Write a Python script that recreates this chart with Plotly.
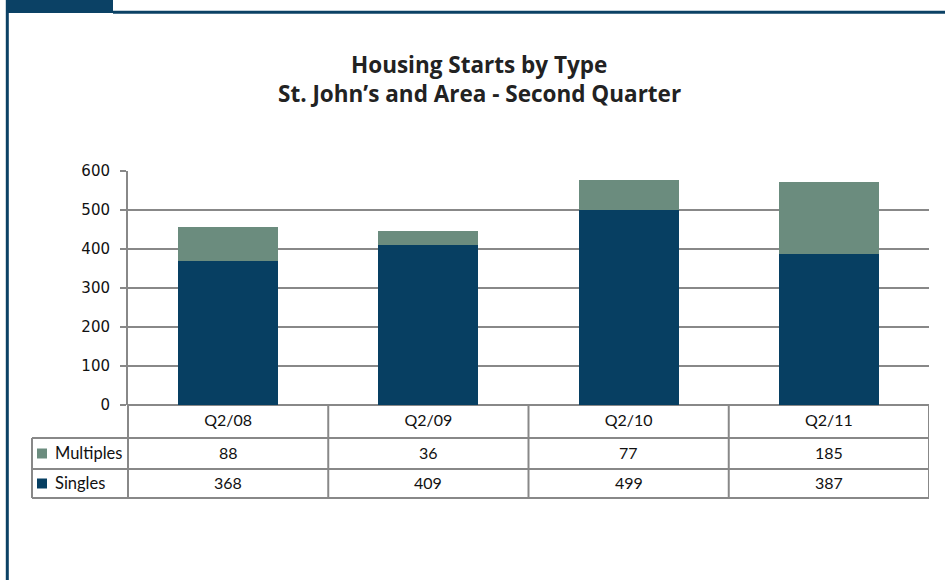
import plotly.graph_objects as go

categories = ["Q2/08", "Q2/09", "Q2/10", "Q2/11"]
singles = [368, 409, 499, 387]
multiples = [88, 36, 77, 185]
series_names = ["Multiples", "Singles"]
y_ticks = [0, 100, 200, 300, 400, 500, 600]

C_SINGLE = "#073F62"
C_MULTI = "#6B8C7E"
C_FRAME = "#0B4165"
C_GRID = "#888888"
W, H = 945, 580

def px(x):
    return x / W

def py(y):
    return 1 - y / H

fig = go.Figure()
fig.add_bar(x=categories, y=singles, name="Singles", marker_color=C_SINGLE, marker_line_width=0)
fig.add_bar(x=categories, y=multiples, name="Multiples", marker_color=C_MULTI, marker_line_width=0)

shapes = []
# frame
shapes.append(dict(type="rect", xref="paper", yref="paper", x0=px(6), x1=px(113), y0=py(13), y1=py(0),
                   fillcolor=C_FRAME, line_width=0, layer="above"))
shapes.append(dict(type="line", xref="paper", yref="paper", x0=px(113), x1=1, y0=py(12.3), y1=py(12.3),
                   line=dict(color=C_FRAME, width=3)))
shapes.append(dict(type="line", xref="paper", yref="paper", x0=px(7.3), x1=px(7.3), y0=0, y1=1,
                   line=dict(color=C_FRAME, width=3)))

# data table
line = dict(color=C_GRID, width=2)
TOP, R1, R2, BOT = 405, 438, 469, 498
LEFT, LAB, RIGHT = 32, 128, 929
for yy in (R1, R2, BOT):
    shapes.append(dict(type="line", xref="paper", yref="paper", x0=px(LEFT), x1=px(RIGHT),
                       y0=py(yy), y1=py(yy), line=line))
shapes.append(dict(type="line", xref="paper", yref="paper", x0=px(LEFT), x1=px(LEFT),
                   y0=py(R1), y1=py(BOT), line=line))
shapes.append(dict(type="line", xref="paper", yref="paper", x0=px(LAB), x1=px(LAB),
                   y0=py(TOP), y1=py(BOT), line=line))
for i in range(len(categories)):
    shapes.append(dict(type="line", xref="x", yref="paper", x0=i + 0.5, x1=i + 0.5,
                       y0=py(TOP), y1=py(BOT), line=line))

annotations = []
FONT = "Lato"
TFONT = dict(family="Open Sans", size=22.5, color="#222222", weight=700)
annotations.append(dict(xref="paper", yref="paper", x=px(479), y=py(64), yanchor="middle",
                        text="Housing Starts by Type", showarrow=False, font=TFONT))
annotations.append(dict(xref="paper", yref="paper", x=px(479), y=py(93), yanchor="middle",
                        text="St. John’s and Area - Second Quarter", showarrow=False, font=TFONT))

rows = [(multiples, "Multiples", C_MULTI, (R1 + R2) / 2), (singles, "Singles", C_SINGLE, (R2 + BOT) / 2)]
for vals, name, col, yc in rows:
    shapes.append(dict(type="rect", xref="paper", yref="paper", x0=px(37), x1=px(47),
                       y0=py(yc + 5), y1=py(yc - 5), fillcolor=col, line_width=0))
    annotations.append(dict(xref="paper", yref="paper", x=px(53), y=py(yc - 1), xanchor="left", yanchor="middle",
                            text=name, showarrow=False, font=dict(family=FONT, size=16.5, color="#111111")))
    for i, v in enumerate(vals):
        annotations.append(dict(xref="x", yref="paper", x=i, y=py(yc - 1), yanchor="middle", text=str(v),
                                showarrow=False, font=dict(family=FONT, size=16, color="#111111")))

fig.update_layout(
    width=W, height=H, margin=dict(l=0, r=0, t=0, b=0, autoexpand=False),
    paper_bgcolor="white", plot_bgcolor="white",
    barmode="stack", bargap=0.5, showlegend=False,
    shapes=shapes, annotations=annotations,
    xaxis=dict(domain=[px(LAB), px(RIGHT)], range=[-0.5, 3.5], showgrid=False, showline=False,
               automargin=False,
               ticks="", tickfont=dict(family=FONT, size=16, color="#111111"), ticklabelstandoff=4),
    yaxis=dict(domain=[py(TOP), py(171)], range=[0, 600], tickvals=y_ticks, automargin=False,
               showgrid=True, gridcolor=C_GRID, gridwidth=2, zeroline=True, zerolinecolor=C_GRID,
               zerolinewidth=2, showline=True, linecolor=C_GRID, linewidth=2,
               ticks="outside", ticklen=6, tickcolor=C_GRID, tickwidth=2, ticklabelstandoff=7,
               tickfont=dict(family="DejaVu Sans", size=15, color="#111111")),
)

fig.write_html("out.html", config={"displayModeBar": False},
               post_script="document.body.style.margin='0';document.body.style.overflow='hidden';")
